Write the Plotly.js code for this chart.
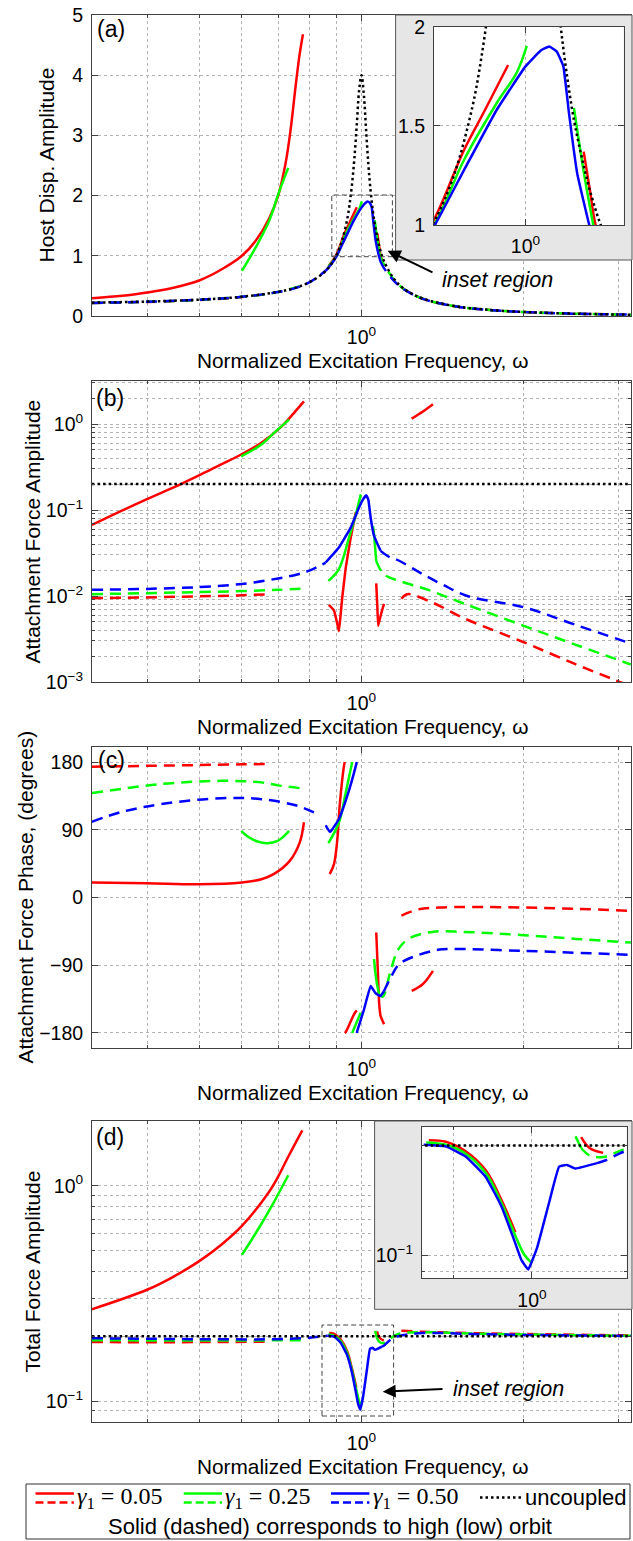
<!DOCTYPE html>
<html><head><meta charset="utf-8">
<script src="https://cdn.plot.ly/plotly-3.0.1.min.js"></script>
<style>html,body{margin:0;padding:0;background:#fff;}#chart{width:633px;height:1541px;}</style>
</head><body><div id="chart"></div>
<script>
// ---------------- DATA ----------------
// omega = normalized excitation frequency
// Panel (a): host displacement amplitude
const A_unc_w = [0.316,0.4,0.5,0.6,0.7,0.75,0.8,0.85,0.88,0.9,0.92,0.94,0.95,0.96,0.97,0.98,0.99,1.0,1.01,1.02,1.03,1.04,1.05,1.06,1.08,1.1,1.15,1.2,1.3,1.5,1.75,2,2.5,3.16];
const A_unc   = [0.222,0.24,0.272,0.32,0.40,0.462,0.56,0.715,0.87,1.024,1.248,1.593,1.844,2.176,2.616,3.175,3.749,4.0,3.68,3.074,2.508,2.067,1.737,1.487,1.143,0.921,0.611,0.45,0.289,0.16,0.097,0.067,0.038,0.022];
const A_red_hi_left_w = [0.3146,0.36,0.4,0.4457,0.5,0.5516,0.6,0.6364,0.674,0.7,0.7234,0.7388,0.7547,0.7678,0.7789];
const A_red_hi_left   = [0.295,0.335,0.39,0.465,0.59,0.78,1.0,1.25,1.62,1.99,2.55,3.1,3.82,4.35,4.68];
const A_red_hi_mid_w  = [0.87,0.896,0.931,0.954,0.98];
const A_red_hi_mid    = [0.84,1.0,1.378,1.58,1.807];
const A_red_hi_right_w= [1.07,1.078,1.085,1.1];
const A_red_hi_right  = [1.37,1.17,1.0,0.83];
const A_red_lo_left_w = [0.316,0.4,0.5,0.6,0.681];
const A_red_lo_left   = [0.216,0.234,0.266,0.315,0.378];
const A_red_lo_right_w= [1.186,1.2,1.3,1.5,1.75,2,2.5,3.16];
const A_red_lo_right  = [0.48,0.445,0.285,0.158,0.096,0.066,0.038,0.022];
const A_grn_hi_left_w = [0.6,0.6364,0.674,0.703,0.7313];
const A_grn_hi_left   = [0.75,1.14,1.58,2.06,2.46];
const A_grn_hi_mid_w  = [0.868,0.899,0.931,0.967,0.99,1.0015];
const A_grn_hi_mid    = [0.82,1.0,1.328,1.614,1.77,1.903];
const A_grn_hi_right_w= [1.058,1.07,1.082];
const A_grn_hi_right  = [1.59,1.27,1.0];
const A_grn_lo_left_w = [0.316,0.4,0.5,0.6,0.7,0.78];
const A_grn_lo_left   = [0.217,0.236,0.268,0.318,0.398,0.51];
const A_grn_lo_right_w= [1.082,1.1,1.15,1.2,1.3,1.5,1.75,2,2.5,3.16];
const A_grn_lo_right  = [1.0,0.86,0.6,0.445,0.286,0.159,0.097,0.066,0.038,0.022];
const A_blu_hi_w = [0.858,0.88,0.9,0.931,0.967,1.0,1.018,1.028,1.037,1.045,1.052,1.062,1.077,1.085];
const A_blu_hi   = [0.75,0.87,1.0,1.277,1.58,1.80,1.88,1.90,1.875,1.80,1.56,1.26,1.0,0.9];
const A_blu_lo_left_w = [0.316,0.4,0.5,0.6,0.7,0.75,0.8,0.858];
const A_blu_lo_left   = [0.218,0.236,0.27,0.318,0.398,0.458,0.558,0.75];
const A_blu_lo_right_w= [1.085,1.1,1.15,1.2,1.3,1.5,1.75,2,2.5,3.16];
const A_blu_lo_right  = [0.9,0.8,0.58,0.44,0.285,0.158,0.096,0.066,0.038,0.022];

// Panel (b): attachment force amplitude
const B_unc_w = [0.316,1,3.16];
const B_unc   = [0.2,0.2,0.2];
const B_red_hi_left_w = [0.316,0.356,0.399,0.462,0.504,0.549,0.598,0.652,0.711,0.749,0.782];
const B_red_hi_left   = [0.067,0.0955,0.133,0.2,0.259,0.339,0.442,0.603,0.94,1.34,1.83];
const B_red_hi_mid_w  = [0.87,0.889,0.902,0.908,0.915,0.921,0.935,0.955,0.976];
const B_red_hi_mid    = [0.0079,0.0068,0.0047,0.0039,0.0062,0.0096,0.0214,0.0478,0.094];
const B_red_hi_right_w= [1.065,1.07,1.074,1.088,1.101];
const B_red_hi_right  = [0.014,0.0075,0.0045,0.0063,0.0081];
const B_red_hi_far_w  = [1.239,1.30,1.357];
const B_red_hi_far    = [1.155,1.4,1.70];
const B_red_lo_left_w = [0.316,0.5,0.6,0.681];
const B_red_lo_left   = [0.0094,0.0099,0.0102,0.0105];
const B_red_lo_right_w= [1.186,1.216,1.353,1.561,2.0,2.5,2.97,3.16];
const B_red_lo_right  = [0.0093,0.0105,0.0084,0.0054,0.0029,0.0016,0.00104,0.00089];
const B_grn_hi_left_w = [0.598,0.652,0.69,0.734];
const B_grn_hi_left   = [0.42,0.577,0.8,1.125];
const B_grn_hi_mid_w  = [0.868,0.908,0.948,0.976,0.997];
const B_grn_hi_mid    = [0.015,0.0206,0.0478,0.089,0.152];
const B_grn_hi_right_w= [1.05,1.055,1.06,1.065];
const B_grn_hi_right  = [0.065,0.052,0.036,0.0256];
const B_grn_lo_left_w = [0.316,0.5,0.6,0.7,0.78];
const B_grn_lo_left   = [0.0105,0.0111,0.0114,0.0118,0.0122];
const B_grn_lo_right_w= [1.065,1.085,1.109,1.174,1.334,1.538,2.0,2.5,3.16];
const B_grn_lo_right  = [0.0256,0.02,0.0172,0.015,0.0117,0.0083,0.0045,0.0027,0.0016];
const B_blu_hi_w = [0.858,0.908,0.955,0.989,1.008,1.021,1.03,1.04,1.055,1.085];
const B_blu_hi   = [0.0245,0.0366,0.0624,0.106,0.135,0.148,0.13,0.0814,0.05,0.0335];
const B_blu_lo_left_w = [0.316,0.4,0.5,0.6,0.7,0.76,0.8,0.858];
const B_blu_lo_left   = [0.0118,0.0121,0.0127,0.0138,0.016,0.0178,0.0197,0.0245];
const B_blu_lo_right_w= [1.085,1.12,1.174,1.297,1.416,1.572,2.0,2.5,3.16];
const B_blu_lo_right  = [0.0335,0.029,0.0257,0.018,0.0135,0.010,0.0074,0.0046,0.0028];

// Panel (c): attachment force phase (degrees)
const C_red_hi_left_w = [0.316,0.4,0.5,0.6,0.652,0.687,0.736,0.768,0.782];
const C_red_hi_left   = [20,19,17.7,20,24.3,31,48.7,73,100];
const C_red_hi_mid_w  = [0.873,0.889,0.902,0.911,0.928,0.931];
const C_red_hi_mid    = [31,44.3,77.5,121.8,175,180];
const C_red_hi_mid2_w = [0.931,0.935,0.969,0.98];
const C_red_hi_mid2   = [-180,-178.7,-155,-150];
const C_red_hi_right_w= [1.065,1.072,1.078,1.085,1.101];
const C_red_hi_right  = [-46.5,-95,-139.6,-157.4,-168.5];
const C_red_hi_far_w  = [1.239,1.30,1.357];
const C_red_hi_far    = [-124.2,-115,-97.6];
const C_red_lo_left_w = [0.316,0.4,0.5,0.6,0.681];
const C_red_lo_left   = [173.7,175,176,177,177.3];
const C_red_lo_right_w= [1.186,1.278,1.392,1.6,2.0,2.5,3.16];
const C_red_lo_right  = [-24,-15.6,-13.3,-12.5,-13.3,-15,-17.8];
const C_grn_hi_arc_w  = [0.598,0.619,0.641,0.669,0.699,0.717,0.734];
const C_grn_hi_arc    = [88.6,79.8,74.5,72.2,75.3,81.1,88.6];
const C_grn_hi_mid_w  = [0.868,0.908,0.935,0.961];
const C_grn_hi_mid    = [72.2,99.7,139.6,180];
const C_grn_hi_mid2_w = [0.961,0.973,0.997];
const C_grn_hi_mid2   = [-180,-170.7,-153];
const C_grn_hi_right_w= [1.055,1.065,1.078];
const C_grn_hi_right  = [-82,-108.6,-128.6];
const C_grn_lo_left_w = [0.316,0.424,0.549,0.652,0.7,0.775];
const C_grn_lo_left   = [138.7,150.7,155,153,149,145];
const C_grn_lo_right_w= [1.078,1.095,1.13,1.17,1.225,1.353,1.545,2.0,2.5,3.16];
const C_grn_lo_right  = [-128.6,-132,-100,-69,-54.6,-45.7,-45.7,-50.1,-55,-59.8];
const C_blu_hi_w  = [0.858,0.873,0.883,0.908,0.941,0.978,0.98];
const C_blu_hi    = [96,87.2,90.8,104,135,177.3,180];
const C_blu_hi2_w = [0.98,0.982,1.011,1.04,1.062,1.085,1.1];
const C_blu_hi2   = [-180,-177.4,-148.5,-117.6,-127.3,-130.8,-125];
const C_blu_lo_left_w = [0.316,0.356,0.424,0.549,0.652,0.761,0.816];
const C_blu_lo_left   = [100.5,113,124,132,130.7,121.8,113];
const C_blu_lo_right_w= [1.1,1.133,1.174,1.26,1.353,1.416,2.0,3.16];
const C_blu_lo_right  = [-125,-106.4,-88.7,-77.7,-71,-68.8,-71,-76.3];

// Panel (d): total force amplitude
const D_unc_w = [0.316,1,3.16];
const D_unc   = [0.2,0.2,0.2];
const D_red_hi_left_w = [0.3146,0.4,0.4457,0.5,0.5516,0.6,0.674,0.7,0.7337,0.7766];
const D_red_hi_left   = [0.266,0.329,0.376,0.447,0.537,0.651,0.938,1.10,1.387,1.81];
const D_red_hi_mid_w  = [0.871,0.891,0.915,0.94,0.96,0.978];
const D_red_hi_mid    = [0.207,0.205,0.193,0.171,0.1416,0.1156];
const D_red_hi_right_w= [1.068,1.08,1.10];
const D_red_hi_right  = [0.211,0.197,0.191];
const D_red_lo_left_w = [0.316,0.5,0.681];
const D_red_lo_left   = [0.188,0.188,0.189];
const D_red_lo_right_w= [1.186,1.3,1.6,2.0,3.16];
const D_red_lo_right  = [0.212,0.21,0.207,0.205,0.202];
const D_grn_hi_left_w = [0.6,0.6364,0.683,0.7313];
const D_grn_hi_left   = [0.478,0.602,0.814,1.12];
const D_grn_hi_mid_w  = [0.868,0.891,0.915,0.94,0.96,0.978,0.99,1.0];
const D_grn_hi_mid    = [0.204,0.201,0.19,0.168,0.139,0.113,0.1,0.095];
const D_grn_hi_right_w= [1.06,1.068];
const D_grn_hi_right  = [0.212,0.197];
const D_grn_lo_left_w = [0.316,0.5,0.78];
const D_grn_lo_left   = [0.192,0.191,0.192];
const D_grn_lo_right_w= [1.068,1.08,1.10,1.13,1.17,1.3,1.6,2.0,3.16];
const D_grn_lo_right  = [0.197,0.188,0.186,0.195,0.205,0.209,0.206,0.204,0.201];
const D_blu_hi_w = [0.865,0.891,0.915,0.94,0.96,0.975,0.986,0.995,1.007,1.023,1.037,1.048,1.06,1.091];
const D_blu_hi   = [0.201,0.199,0.1866,0.164,0.136,0.112,0.0968,0.0913,0.105,0.139,0.175,0.177,0.173,0.179];
const D_blu_lo_left_w = [0.316,0.5,0.7,0.8,0.865];
const D_blu_lo_left   = [0.196,0.194,0.194,0.197,0.201];
const D_blu_lo_right_w= [1.091,1.103,1.133,1.17,1.3,1.6,2.0,3.16];
const D_blu_lo_right  = [0.179,0.182,0.193,0.2,0.207,0.205,0.203,0.201];

// Tick values / labels
const X_MAJOR = [1];
const X_MAJOR_TEXT = ['10<sup>0</sup>'];
const X_MINOR = [0.3,0.4,0.5,0.6,0.7,0.8,0.9,2,3];
const A_Y_TICKS = [0,1,2,3,4,5];
const B_Y_TICKS = [0.001,0.01,0.1,1];
const B_Y_TEXT  = ['10<sup>−3</sup>','10<sup>−2</sup>','10<sup>−1</sup>','10<sup>0</sup>'];
const B_Y_MINOR = [0.002,0.003,0.004,0.005,0.006,0.007,0.008,0.009,0.02,0.03,0.04,0.05,0.06,0.07,0.08,0.09,0.2,0.3,0.4,0.5,0.6,0.7,0.8,0.9,2,3];
const C_Y_TICKS = [-180,-90,0,90,180];
const D_Y_TICKS = [0.1,1];
const D_Y_TEXT  = ['10<sup>−1</sup>','10<sup>0</sup>'];
const D_Y_MINOR = [0.09,0.2,0.3,0.4,0.5,0.6,0.7,0.8,0.9,2];
const AI_Y_TICKS = [1,1.5,2];
const INSET_X_MINOR = [0.9];
const DI_Y_MINOR = [0.09,0.2];

const LEGEND_LABELS = ['<i>γ</i><sub>1</sub> = 0.05','<i>γ</i><sub>1</sub> = 0.25','<i>γ</i><sub>1</sub> = 0.50'];

// ---------------- STYLE / LAYOUT ----------------
const W = 633, H = 1541;
const px = x => x / W;
const py = y => 1 - y / H;
const RED = '#ff0000', GRN = '#00ff00', BLU = '#0000ff', BLK = '#000000';
const DASH = '11px,7px', DOT = '2.5px,3px';
const FONT = 'Liberation Sans, Arial, sans-serif';
const AXC = '#404040', GRIDC = '#b3b3b3';

function tr(w, v, color, style, n, sharp) {
  const id = n === 1 ? '' : String(n);
  return {
    type: 'scatter', mode: 'lines', x: w, y: v, xaxis: 'x' + id, yaxis: 'y' + id,
    hoverinfo: 'skip', showlegend: false,
    line: { color: color, width: 2.5, dash: style === 'solid' ? 'solid' : (style === 'dash' ? DASH : DOT),
            shape: 'spline', smoothing: sharp ? 0.3 : 1.0 }
  };
}

function panelA(n) {
  return [
    tr(A_red_lo_left_w, A_red_lo_left, RED, 'dash', n),
    tr(A_red_lo_right_w, A_red_lo_right, RED, 'dash', n),
    tr(A_red_hi_left_w, A_red_hi_left, RED, 'solid', n),
    tr(A_red_hi_mid_w, A_red_hi_mid, RED, 'solid', n),
    tr(A_red_hi_right_w, A_red_hi_right, RED, 'solid', n),
    tr(A_grn_lo_left_w, A_grn_lo_left, GRN, 'dash', n),
    tr(A_grn_lo_right_w, A_grn_lo_right, GRN, 'dash', n),
    tr(A_grn_hi_left_w, A_grn_hi_left, GRN, 'solid', n),
    tr(A_grn_hi_mid_w, A_grn_hi_mid, GRN, 'solid', n),
    tr(A_grn_hi_right_w, A_grn_hi_right, GRN, 'solid', n),
    tr(A_blu_lo_left_w, A_blu_lo_left, BLU, 'dash', n),
    tr(A_blu_lo_right_w, A_blu_lo_right, BLU, 'dash', n),
    tr(A_blu_hi_w, A_blu_hi, BLU, 'solid', n, true),
    tr(A_unc_w, A_unc, BLK, 'dot', n)
  ];
}
function panelB(n) {
  return [
    tr(B_red_lo_left_w, B_red_lo_left, RED, 'dash', n),
    tr(B_red_lo_right_w, B_red_lo_right, RED, 'dash', n),
    tr(B_red_hi_left_w, B_red_hi_left, RED, 'solid', n),
    tr(B_red_hi_mid_w, B_red_hi_mid, RED, 'solid', n, true),
    tr(B_red_hi_right_w, B_red_hi_right, RED, 'solid', n, true),
    tr(B_red_hi_far_w, B_red_hi_far, RED, 'solid', n),
    tr(B_grn_lo_left_w, B_grn_lo_left, GRN, 'dash', n),
    tr(B_grn_lo_right_w, B_grn_lo_right, GRN, 'dash', n),
    tr(B_grn_hi_left_w, B_grn_hi_left, GRN, 'solid', n),
    tr(B_grn_hi_mid_w, B_grn_hi_mid, GRN, 'solid', n),
    tr(B_grn_hi_right_w, B_grn_hi_right, GRN, 'solid', n),
    tr(B_blu_lo_left_w, B_blu_lo_left, BLU, 'dash', n),
    tr(B_blu_lo_right_w, B_blu_lo_right, BLU, 'dash', n),
    tr(B_blu_hi_w, B_blu_hi, BLU, 'solid', n, true),
    tr(B_unc_w, B_unc, BLK, 'dot', n)
  ];
}
function panelC(n) {
  return [
    tr(C_red_lo_left_w, C_red_lo_left, RED, 'dash', n),
    tr(C_red_lo_right_w, C_red_lo_right, RED, 'dash', n),
    tr(C_red_hi_left_w, C_red_hi_left, RED, 'solid', n),
    tr(C_red_hi_mid_w, C_red_hi_mid, RED, 'solid', n),
    tr(C_red_hi_mid2_w, C_red_hi_mid2, RED, 'solid', n),
    tr(C_red_hi_right_w, C_red_hi_right, RED, 'solid', n, true),
    tr(C_red_hi_far_w, C_red_hi_far, RED, 'solid', n),
    tr(C_grn_lo_left_w, C_grn_lo_left, GRN, 'dash', n),
    tr(C_grn_lo_right_w, C_grn_lo_right, GRN, 'dash', n),
    tr(C_grn_hi_arc_w, C_grn_hi_arc, GRN, 'solid', n),
    tr(C_grn_hi_mid_w, C_grn_hi_mid, GRN, 'solid', n),
    tr(C_grn_hi_mid2_w, C_grn_hi_mid2, GRN, 'solid', n),
    tr(C_grn_hi_right_w, C_grn_hi_right, GRN, 'solid', n),
    tr(C_blu_lo_left_w, C_blu_lo_left, BLU, 'dash', n),
    tr(C_blu_lo_right_w, C_blu_lo_right, BLU, 'dash', n),
    tr(C_blu_hi_w, C_blu_hi, BLU, 'solid', n, true),
    tr(C_blu_hi2_w, C_blu_hi2, BLU, 'solid', n, true)
  ];
}
function panelD(n) {
  return [
    tr(D_red_lo_left_w, D_red_lo_left, RED, 'dash', n),
    tr(D_red_lo_right_w, D_red_lo_right, RED, 'dash', n),
    tr(D_red_hi_left_w, D_red_hi_left, RED, 'solid', n),
    tr(D_red_hi_mid_w, D_red_hi_mid, RED, 'solid', n),
    tr(D_red_hi_right_w, D_red_hi_right, RED, 'solid', n),
    tr(D_grn_lo_left_w, D_grn_lo_left, GRN, 'dash', n),
    tr(D_grn_lo_right_w, D_grn_lo_right, GRN, 'dash', n),
    tr(D_grn_hi_left_w, D_grn_hi_left, GRN, 'solid', n),
    tr(D_grn_hi_mid_w, D_grn_hi_mid, GRN, 'solid', n),
    tr(D_grn_hi_right_w, D_grn_hi_right, GRN, 'solid', n),
    tr(D_blu_lo_left_w, D_blu_lo_left, BLU, 'dash', n),
    tr(D_blu_lo_right_w, D_blu_lo_right, BLU, 'dash', n),
    tr(D_blu_hi_w, D_blu_hi, BLU, 'solid', n, true),
    tr(D_unc_w, D_unc, BLK, 'dot', n)
  ];
}
function bgBox(n) {
  const id = String(n);
  return { type: 'scatter', mode: 'lines', x: [0, 1, 1, 0, 0], y: [0, 0, 1, 1, 0],
           xaxis: 'x' + id, yaxis: 'y' + id, fill: 'toself', fillcolor: '#e6e6e6',
           line: { width: 0, color: '#e6e6e6' }, hoverinfo: 'skip', showlegend: false };
}

const data = [].concat(
  panelA(1), [bgBox(2)], panelA(3),
  panelB(4), panelC(5),
  panelD(6), [bgBox(7)], panelD(8)
);

const tickfont = { family: FONT, size: 19.5, color: '#000' };
function gridAxis(extra) {
  return Object.assign({
    showline: true, linecolor: AXC, linewidth: 1, mirror: 'ticks',
    ticks: 'inside', ticklen: 6, tickcolor: AXC, tickwidth: 1,
    showgrid: true, gridcolor: GRIDC, griddash: 'dot', gridwidth: 1,
    zeroline: false, fixedrange: true, tickfont: tickfont, ticklabelstandoff: 4
  }, extra);
}
function minorCfg(vals) {
  return { tickvals: vals, ticks: 'inside', ticklen: 3, tickcolor: AXC,
           showgrid: true, gridcolor: GRIDC, griddash: 'dot', gridwidth: 1 };
}
const XDOM = [px(92), px(631)];
function mainX(anchor) {
  return gridAxis({ type: 'log', range: [-0.5, 0.5], domain: XDOM, anchor: anchor,
    tickmode: 'array', tickvals: X_MAJOR, ticktext: X_MAJOR_TEXT, minor: minorCfg(X_MINOR) });
}
const hidden = { visible: false, range: [0, 1], fixedrange: true, showgrid: false, zeroline: false };

const layout = {
  width: W, height: H, margin: { l: 0, r: 0, t: 0, b: 0 },
  paper_bgcolor: '#fff', plot_bgcolor: '#fff', showlegend: false,
  font: { family: FONT, size: 19, color: '#000' },
  // (a)
  xaxis: mainX('y'),
  yaxis: gridAxis({ range: [0, 5], domain: [py(316), py(15)], anchor: 'x', tickmode: 'array', tickvals: A_Y_TICKS }),
  xaxis2: Object.assign({ domain: [px(395.6), px(632)], anchor: 'y2' }, hidden),
  yaxis2: Object.assign({ domain: [py(260), py(15)], anchor: 'x2' }, hidden),
  xaxis3: gridAxis({ type: 'log', range: [-0.0462, 0.0496], domain: [px(434), px(623.7)], anchor: 'y3',
    tickmode: 'array', tickvals: X_MAJOR, ticktext: X_MAJOR_TEXT, minor: minorCfg(INSET_X_MINOR) }),
  yaxis3: gridAxis({ range: [1, 2], domain: [py(225), py(26.7)], anchor: 'x3', tickmode: 'array', tickvals: AI_Y_TICKS }),
  // (b)
  xaxis4: mainX('y4'),
  yaxis4: gridAxis({ type: 'log', range: [-3, 0.5], domain: [py(682), py(381)], anchor: 'x4',
    tickmode: 'array', tickvals: B_Y_TICKS, ticktext: B_Y_TEXT, minor: minorCfg(B_Y_MINOR) }),
  // (c)
  xaxis5: mainX('y5'),
  yaxis5: gridAxis({ range: [-200, 200], domain: [py(1048), py(747)], anchor: 'x5', tickmode: 'array', tickvals: C_Y_TICKS }),
  // (d)
  xaxis6: mainX('y6'),
  yaxis6: gridAxis({ type: 'log', range: [Math.log10(0.08), Math.log10(2)], domain: [py(1422), py(1121)], anchor: 'x6',
    tickmode: 'array', tickvals: D_Y_TICKS, ticktext: D_Y_TEXT, minor: minorCfg(D_Y_MINOR) }),
  xaxis7: Object.assign({ domain: [px(374.6), px(632)], anchor: 'y7' }, hidden),
  yaxis7: Object.assign({ domain: [py(1309.3), py(1121)], anchor: 'x7' }, hidden),
  xaxis8: gridAxis({ type: 'log', range: [-0.064, 0.055], domain: [px(421.9), px(626.6)], anchor: 'y8',
    tickmode: 'array', tickvals: X_MAJOR, ticktext: X_MAJOR_TEXT, minor: minorCfg(INSET_X_MINOR) }),
  yaxis8: gridAxis({ type: 'log', range: [-1.064, -0.647], domain: [py(1278.3), py(1126.7)], anchor: 'x8',
    tickmode: 'array', tickvals: [0.1], ticktext: ['10<sup>−1</sup>'], minor: minorCfg(DI_Y_MINOR) }),
  shapes: [],
  annotations: []
};

function rectPx(x0, y0, x1, y1, line, fill) {
  return { type: 'rect', xref: 'paper', yref: 'paper', x0: px(x0), x1: px(x1), y0: py(y1), y1: py(y0),
           line: line, fillcolor: fill || 'rgba(0,0,0,0)', layer: 'above' };
}
// grey inset box borders
layout.shapes.push(rectPx(395.6, 15, 632, 260, { color: '#555', width: 1 }));
layout.shapes.push(rectPx(374.6, 1121, 632, 1309.3, { color: '#555', width: 1 }));
// dashed "inset region" boxes
layout.shapes.push(rectPx(331.8, 195, 392.4, 256.7, { color: '#444', width: 1, dash: '5px,3px' }));
layout.shapes.push(rectPx(322, 1325, 393.6, 1416, { color: '#444', width: 1, dash: '5px,3px' }));
// legend box
layout.shapes.push(rectPx(26, 1484, 630, 1539, { color: '#333', width: 1 }, '#ffffff'));
function hline(x0, x1, y, color, dash) {
  return { type: 'line', xref: 'paper', yref: 'paper', x0: px(x0), x1: px(x1), y0: py(y), y1: py(y),
           line: { color: color, width: 2.5, dash: dash }, layer: 'above' };
}
const legendX = [[35.5, 73.9, 75], [183.7, 222, 223], [331, 369.4, 370.6]];
const legendC = [RED, GRN, BLU];
legendX.forEach((p, i) => {
  layout.shapes.push(hline(p[0], p[1], 1493.5, legendC[i], 'solid'));
  layout.shapes.push(hline(p[0], p[1], 1502.5, legendC[i], '8px,4px'));
  layout.annotations.push({ xref: 'paper', yref: 'paper', x: px(p[2]), y: py(1498), xanchor: 'left', yanchor: 'middle',
    text: LEGEND_LABELS[i], showarrow: false, font: { family: 'Liberation Serif, Times New Roman, serif', size: 24, color: '#000' } });
});
layout.shapes.push(hline(480, 521, 1497.5, BLK, DOT));
layout.annotations.push({ xref: 'paper', yref: 'paper', x: px(523), y: py(1497), xanchor: 'left', yanchor: 'middle',
  text: 'uncoupled', showarrow: false, font: { family: FONT, size: 22, color: '#000' } });
layout.annotations.push({ xref: 'paper', yref: 'paper', x: px(330), y: py(1526.5), xanchor: 'center', yanchor: 'middle',
  text: 'Solid (dashed) corresponds to high (low) orbit', showarrow: false, font: { family: FONT, size: 22, color: '#000' } });

function textPx(x, y, text, size, extra) {
  return Object.assign({ xref: 'paper', yref: 'paper', x: px(x), y: py(y), xanchor: 'center', yanchor: 'middle',
    text: text, showarrow: false, font: { family: FONT, size: size, color: '#000' } }, extra || {});
}
// panel labels
[['(a)', 111, 29], ['(b)', 110, 398], ['(c)', 111, 760], ['(d)', 110, 1137]].forEach(l =>
  layout.annotations.push(textPx(l[1], l[2], l[0], 23)));
// x titles
[316, 682, 1048, 1422].forEach(b =>
  layout.annotations.push(textPx(362.5, b + 44.5, 'Normalized Excitation Frequency, ω', 20.8)));
// y titles
[['Host Disp. Amplitude', 46, 165.5], ['Attachment Force Amplitude', 32, 531.5],
 ['Attachment Force Phase, (degrees)', 25, 897.5], ['Total Force Amplitude', 32, 1271.5]].forEach(t =>
  layout.annotations.push(textPx(t[1], t[2], t[0], 21, { textangle: -90 })));
// inset region labels and arrows
layout.annotations.push(textPx(497.5, 280, '<i>inset region</i>', 21.5));
layout.annotations.push(textPx(508.5, 1389, '<i>inset region</i>', 21.5));
layout.annotations.push({ xref: 'paper', yref: 'paper', x: px(387.6), y: py(250.7), ax: 46.4, ay: 22.3,
  axref: 'pixel', ayref: 'pixel', text: '', showarrow: true, arrowhead: 2, arrowsize: 1.3, arrowwidth: 2, arrowcolor: '#000' });
layout.annotations.push({ xref: 'paper', yref: 'paper', x: px(382.7), y: py(1391.7), ax: 61.3, ay: -2.7,
  axref: 'pixel', ayref: 'pixel', text: '', showarrow: true, arrowhead: 2, arrowsize: 1.3, arrowwidth: 2, arrowcolor: '#000' });

Plotly.newPlot('chart', data, layout, { staticPlot: true, displayModeBar: false });
</script>
</body></html>
